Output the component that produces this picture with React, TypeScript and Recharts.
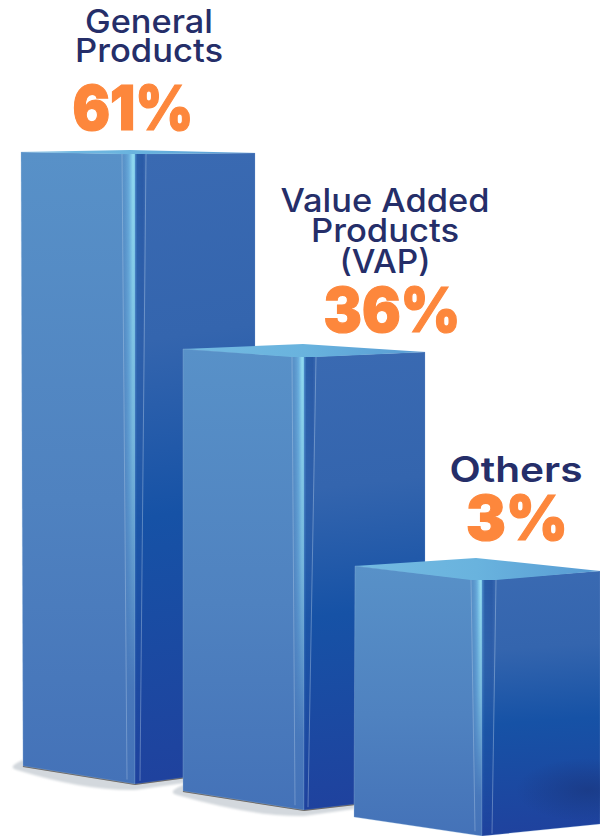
import React from 'react';
import { BarChart, Bar, XAxis, YAxis } from 'recharts';

// values: shares as printed, bar levels counted up from the page bottom
const categories = ['General Products', 'Value Added Products (VAP)', 'Others'];
const shares = [61, 36, 3];
const barBase = [52, 26, 0];
const barTop = [684, 487, 270];
const labelLines = [['General', 'Products'], ['Value Added', 'Products', '(VAP)'], ['Others']];

const data = categories.map((name, i) => ({
  name,
  share: shares[i],
  level: [barBase[i], barTop[i]],
  lines: labelLines[i],
}));

const NAVY = '#252e69';
const ORANGE = '#fd873c';

// perspective of each box, relative to the rect the library hands to the shape
const BOX = [
  { l: 3, bl: 5, r: 237, px: 112, py: -2, ft: 2, tr: 1, sl: 104, sr: 128, c: 117, ly: -18, ry: -16, sbl: 109, sbr: 122 },
  { l: -5, bl: -5, r: 237, px: 115, py: -5, ft: 8, tr: 3, sl: 104, sr: 128, c: 116, ly: -19, ry: -14, sbl: 107, sbr: 120 },
  { l: -3, bl: -4, r: 242, px: 118, py: -8, ft: 14, tr: 5, sl: 113, sr: 138, c: 124, ly: -19, ry: -12, sbl: 117, sbr: 134 },
];

// text placement: [width, baseline] per line
const TEXT = [
  { x: 149, lines: [[128, 33], [148, 62]], pct: { x: 133, y: 130, w: 121, size: 62 }, size: 32, weight: 500 },
  { x: 385, lines: [[209, 212], [148, 242], [91, 273]], pct: { x: 392, y: 332, w: 137, size: 62 }, size: 32, weight: 500 },
  { x: 516, lines: [[133, 482]], pct: { x: 517, y: 540, w: 102, size: 62 }, size: 35, weight: 600 },
];

const Box = (props: any) => {
  const { x, y, height, index, payload } = props;
  const b = BOX[index];
  const t = TEXT[index];
  const bot = y + height;
  const ftop = y + b.ft;
  const X = (v: number) => x + v;

  return (
    <g>
      {index < 2 && (
        <>
          <path
            d={`M${X(b.bl)} ${bot + b.ly - 6} Q${X(b.bl) - 17} ${bot + b.ly + 1} ${X(b.bl) - 6} ${bot + b.ly + 4}
                Q${X(b.c) - 50} ${bot + 7} ${X(b.c)} ${bot + 6} L${X(b.c) + 50} ${bot - 1} L${X(b.c) + 50} ${bot - 10} Z`}
            fill="#d3d8dd"
            filter="url(#soft)"
          />
          <path
            d={`M${X(b.bl)} ${bot + b.ly} L${X(b.c)} ${bot} L${X(b.r)} ${bot + b.ry}`}
            fill="none"
            stroke="#675f58"
            strokeWidth={2}
          />
        </>
      )}
      <polygon
        points={`${X(b.l)},${y} ${X(b.c)},${ftop} ${X(b.c)},${bot} ${X(b.bl)},${bot + b.ly}`}
        fill="url(#leftFace)"
        stroke="#9dbfe0"
        strokeOpacity={0.5}
        strokeWidth={0.6}
      />
      <polygon
        points={`${X(b.c)},${ftop} ${X(b.r)},${y + b.tr} ${X(b.r)},${bot + b.ry} ${X(b.c)},${bot}`}
        fill="url(#rightFace)"
        stroke="#7ea5d6"
        strokeOpacity={0.4}
        strokeWidth={0.6}
      />
      {index === 2 && (
        <ellipse cx={X(b.r) - 12} cy={bot - 46} rx={72} ry={32} fill="url(#blob)" />
      )}
      <polygon
        points={`${X(b.sl)},${ftop} ${X(b.c)},${ftop} ${X(b.c)},${bot} ${X(b.sbl)},${bot}`}
        fill="url(#glow)"
        mask="url(#fade)"
      />
      <polygon
        points={`${X(b.c)},${ftop} ${X(b.sr)},${ftop} ${X(b.sbr)},${bot} ${X(b.c)},${bot}`}
        fill="url(#shade)"
        mask="url(#fadeShade)"
      />
      <line x1={X(b.sl)} y1={ftop} x2={X(b.sbl)} y2={bot + b.ly * 0.25} stroke="#cfe3f4" strokeOpacity={0.4} strokeWidth={0.8} />
      <line x1={X(b.sr)} y1={ftop} x2={X(b.sbr)} y2={bot + b.ry * 0.2} stroke="#cfe3f4" strokeOpacity={0.45} strokeWidth={0.8} />
      <polygon
        points={`${X(b.l)},${y} ${X(b.px)},${y + b.py} ${X(b.r)},${y + b.tr} ${X(b.sr)},${ftop} ${X(b.sl)},${ftop}`}
        fill="url(#topFace)"
      />
      {payload.lines.map((line: string, i: number) => (
        <text
          key={line}
          x={t.x}
          y={t.lines[i][1]}
          textAnchor="middle"
          fontFamily="Inter"
          fontSize={t.size}
          fontWeight={t.weight}
          fill={NAVY}
          textLength={t.lines[i][0]}
          lengthAdjust="spacingAndGlyphs"
        >
          {line}
        </text>
      ))}
      <text
        x={t.pct.x}
        y={t.pct.y}
        textAnchor="middle"
        fontFamily="Inter"
        fontSize={t.pct.size}
        fontWeight={900}
        fill={ORANGE}
        stroke={ORANGE}
        strokeWidth={1.2}
        textLength={t.pct.w}
        lengthAdjust="spacingAndGlyphs"
      >
        {payload.share}%
      </text>
    </g>
  );
};

export default function App() {
  return (
    <div style={{ position: 'absolute', left: 0, top: 0, width: 600, height: 836, overflow: 'hidden', background: '#fff' }}>
      <BarChart width={600} height={836} data={data} margin={{ top: 0, right: 0, bottom: 0, left: 0 }} barSize={240}>
        <defs>
          <linearGradient id="leftFace" x1="0" y1="0" x2="0" y2="1">
            <stop offset="0" stopColor="#5891c8" />
            <stop offset="0.55" stopColor="#4f82c0" />
            <stop offset="1" stopColor="#4472b8" />
          </linearGradient>
          <linearGradient id="rightFace" x1="0" y1="0" x2="0.03" y2="1">
            <stop offset="0" stopColor="#3a6ab2" />
            <stop offset="0.3" stopColor="#3465ae" />
            <stop offset="0.58" stopColor="#1652a6" />
            <stop offset="1" stopColor="#1f429e" />
          </linearGradient>
          <linearGradient id="topFace" x1="0" y1="0" x2="1" y2="0">
            <stop offset="0" stopColor="#74bae1" />
            <stop offset="0.5" stopColor="#69b3de" />
            <stop offset="1" stopColor="#579bd3" />
          </linearGradient>
          <linearGradient id="glow" x1="0" y1="0" x2="1" y2="0">
            <stop offset="0" stopColor="#5b96cb" stopOpacity={0} />
            <stop offset="0.55" stopColor="#6aaedd" />
            <stop offset="0.85" stopColor="#93ddf1" />
            <stop offset="1" stopColor="#7fc8e8" />
          </linearGradient>
          <linearGradient id="shade" x1="0" y1="0" x2="1" y2="0">
            <stop offset="0" stopColor="#4f8fcb" />
            <stop offset="0.2" stopColor="#2a5fa9" />
            <stop offset="0.7" stopColor="#2a5aa6" />
            <stop offset="1" stopColor="#3a6ab2" />
          </linearGradient>
          <linearGradient id="fadeV" x1="0" y1="0" x2="0" y2="1">
            <stop offset="0" stopColor="#fff" />
            <stop offset="0.45" stopColor="#999" />
            <stop offset="0.85" stopColor="#000" />
          </linearGradient>
          <linearGradient id="fadeS" x1="0" y1="0" x2="0" y2="1">
            <stop offset="0" stopColor="#fff" />
            <stop offset="0.6" stopColor="#444" />
            <stop offset="1" stopColor="#000" />
          </linearGradient>
          <mask id="fade" maskContentUnits="objectBoundingBox" x="0" y="0" width="1" height="1">
            <rect width="1" height="1" fill="url(#fadeV)" />
          </mask>
          <mask id="fadeShade" maskContentUnits="objectBoundingBox" x="0" y="0" width="1" height="1">
            <rect width="1" height="1" fill="url(#fadeS)" />
          </mask>
          <radialGradient id="blob">
            <stop offset="0" stopColor="#1a3a85" stopOpacity={0.85} />
            <stop offset="1" stopColor="#1a3a85" stopOpacity={0} />
          </radialGradient>
          <filter id="soft" x="-10%" y="-50%" width="120%" height="200%">
            <feGaussianBlur stdDeviation="1.2" />
          </filter>
        </defs>
        <XAxis dataKey="name" hide padding={{ left: 9, right: 81 }} />
        <YAxis hide domain={[0, 836]} />
        <Bar dataKey="level" shape={Box} isAnimationActive={false} />
      </BarChart>
    </div>
  );
}
